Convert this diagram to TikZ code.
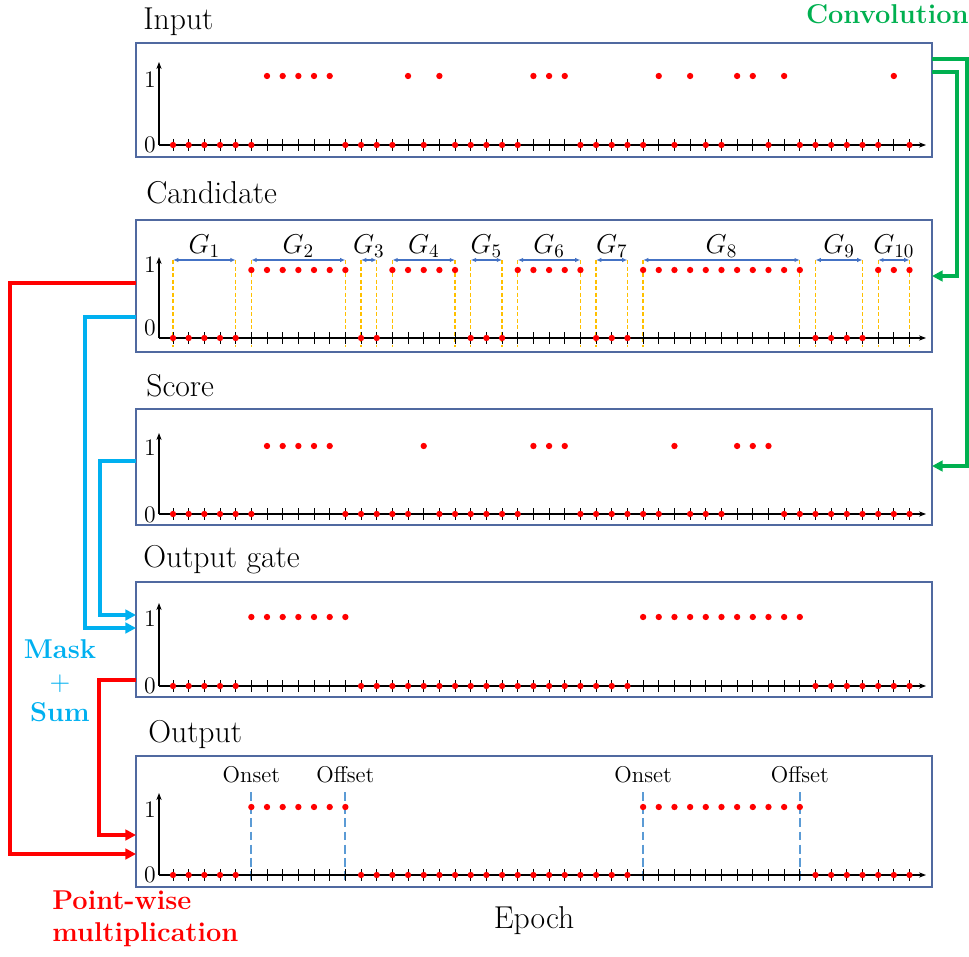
\RequirePackage{fix-cm}
\documentclass[tikz,border=0pt]{standalone}
\usepackage{tikz}
\usetikzlibrary{positioning}
\usetikzlibrary{arrows.meta}
\usepackage{amsmath}
\usepackage{color}

\definecolor{convgreen}{RGB}{0,176,80}
\definecolor{maskblue}{RGB}{0,176,240}
\definecolor{panelblue}{RGB}{80,105,160}
\definecolor{grpyellow}{RGB}{255,192,0}
\definecolor{grpblue}{RGB}{68,114,196}
\definecolor{eventblue}{RGB}{91,155,213}

\newif\ifhigh
% #1 zero line, #2 level of 1, #3 top of y axis, #4 epochs at 1
\newcommand{\sigrow}[4]{%
  \draw[sigaxis] (159,#1) -- (926,#1);
  \draw[sigaxis] (159,#1) -- (159,#3);
  \foreach \i in {0,...,47}
    \draw[tickmark] (173+15.67*\i,#1-6) -- (173+15.67*\i,#1+6);
  \foreach \i in {0,...,47} {
    \global\highfalse
    \foreach \j in {#4} {\ifnum\i=\j\relax\global\hightrue\fi}
    \ifhigh
      \fill[sample] (173+15.67*\i,#2) circle (1.8pt);
    \else
      \fill[sample] (173+15.67*\i,#1) circle (1.8pt);
    \fi
  }
}

\begin{document}
\begin{tikzpicture}
      [
        x=0.02cm, y=-0.02cm,
        panel/.style = {draw=panelblue, line width=0.7pt, minimum width=15.92cm, inner sep=0pt},
        title/.style = {anchor=base west, inner sep=0pt, font=\fontsize{18}{21}\selectfont},
        ylab/.style = {anchor=east, inner sep=0pt, font=\fontsize{13.5}{16}\selectfont},
        sigaxis/.style = {line width=0.8pt, -{Stealth[length=4pt,width=3pt]}},
        tickmark/.style = {line width=0.5pt},
        sample/.style = {red},
        conv/.style = {convgreen, line width=1.9pt, -{Triangle[length=6pt,width=6pt]}},
        mask/.style = {maskblue, line width=1.9pt, -{Triangle[length=6pt,width=6pt]}},
        pwise/.style = {red, line width=1.9pt, -{Triangle[length=6pt,width=6pt]}},
        bound/.style = {grpyellow, line width=0.75pt, dash pattern=on 2.5pt off 1.2pt},
        grpspan/.style = {grpblue, line width=0.6pt, {Latex[length=3pt,width=2.5pt]}-{Latex[length=3pt,width=2.5pt]}},
        glab/.style = {midway, anchor=south, inner sep=1pt, text=black, font=\fontsize{15.5}{18}\selectfont},
        eventline/.style = {eventblue, line width=1pt, dash pattern=on 5pt off 2.5pt},
        evlab/.style = {inner sep=0pt, font=\fontsize{13}{15}\selectfont},
        note/.style = {inner sep=0pt, font=\fontsize{15.5}{18}\selectfont\bfseries}
      ]

      \useasboundingbox (0,0) rectangle (969,956);

      % panels
      \node[panel, minimum height=2.28cm] (inputbox) at (534,100) {};
      \node[panel, minimum height=2.64cm] (candbox) at (534,286) {};
      \node[panel, minimum height=2.32cm] (scorebox) at (534,467) {};
      \node[panel, minimum height=2.30cm] (gatebox) at (534,639.5) {};
      \node[panel, minimum height=2.62cm] (outbox) at (534,821.5) {};

      \node[title] (inputtitle) at (143,30) {Input};
      \node[title] (candtitle) at (146,203) {Candidate};
      \node[title] (scoretitle) at (146,396) {Score};
      \node[title] (gatetitle) at (143,567) {Output gate};
      \node[title] (outtitle) at (148,742) {Output};
      \node[title, anchor=base] (epochlab) at (534,928) {Epoch};

      % y labels
      \node[ylab] (in1) at (156,79.5) {1};
      \node[ylab] (in0) at (156,144.5) {0};
      \node[ylab] (cand1) at (156,265) {1};
      \node[ylab] (cand0) at (156,328) {0};
      \node[ylab] (score1) at (156,448) {1};
      \node[ylab] (score0) at (156,514.5) {0};
      \node[ylab] (gate1) at (156,619) {1};
      \node[ylab] (gate0) at (156,686) {0};
      \node[ylab] (out1) at (156,810) {1};
      \node[ylab] (out0) at (156,875) {0};

      % groups of the candidate
      \foreach \a/\b/\k in {0/4/1,5/11/2,12/13/3,14/18/4,19/21/5,22/26/6,27/29/7,30/40/8,41/44/9,45/47/10} {
        \draw[bound] (173+15.67*\a,260) -- (173+15.67*\a,347);
        \draw[bound] (173+15.67*\b,260) -- (173+15.67*\b,347);
        \draw[grpspan] (173+15.67*\a,260) -- node[glab] (g\k) {$G_{\k}$} (173+15.67*\b,260);
      }

      % onset and offset
      \foreach \i/\lab in {5/Onset,11/Offset,30/Onset,40/Offset} {
        \draw[eventline] (173+15.67*\i,792) -- (173+15.67*\i,884);
        \node[evlab] (ev\i) at (173+15.67*\i,775) {\lab};
      }

      \sigrow{145}{76}{62}{6,7,8,9,10,15,17,23,24,25,31,33,36,37,39,46}
      \sigrow{338}{270}{257}{5,6,7,8,9,10,11,14,15,16,17,18,22,23,24,25,26,30,31,32,33,34,35,36,37,38,39,40,45,46,47}
      \sigrow{514}{446}{433}{6,7,8,9,10,16,23,24,25,32,36,37,38}
      \sigrow{686}{617}{603}{5,6,7,8,9,10,11,30,31,32,33,34,35,36,37,38,39,40}
      \sigrow{875}{807}{793}{5,6,7,8,9,10,11,30,31,32,33,34,35,36,37,38,39,40}

      % connectors
      \coordinate (convA) at (932,59);
      \coordinate (convB) at (932,72);
      \coordinate (candin) at (932,276);
      \coordinate (scorein) at (932,466);
      \coordinate (candR) at (136,283);
      \coordinate (candB) at (136,317);
      \coordinate (scoreB) at (136,461);
      \coordinate (gateA) at (136,615);
      \coordinate (gateB) at (136,628);
      \coordinate (gateR) at (136,680);
      \coordinate (outA) at (136,835);
      \coordinate (outR) at (136,854);

      \draw[conv] (convA) -- ++(35,0) |- (scorein);
      \draw[conv] (convB) -- ++(25,0) |- (candin);
      \draw[pwise] (candR) -- ++(-126,0) |- (outR);
      \draw[mask] (candB) -- ++(-51,0) |- (gateB);
      \draw[mask] (scoreB) -- ++(-36,0) |- (gateA);
      \draw[pwise] (gateR) -- ++(-37,0) |- (outA);

      \node[note, convgreen, anchor=east] (convlab) at (969,14) {Convolution};
      \node[note, maskblue, align=center] (masklab) at (60,681) {Mask\\$+$\\Sum};
      \node[note, red, align=left, anchor=west] (pwlab) at (52,919) {Point-wise\\multiplication};

    \end{tikzpicture}
\end{document}
